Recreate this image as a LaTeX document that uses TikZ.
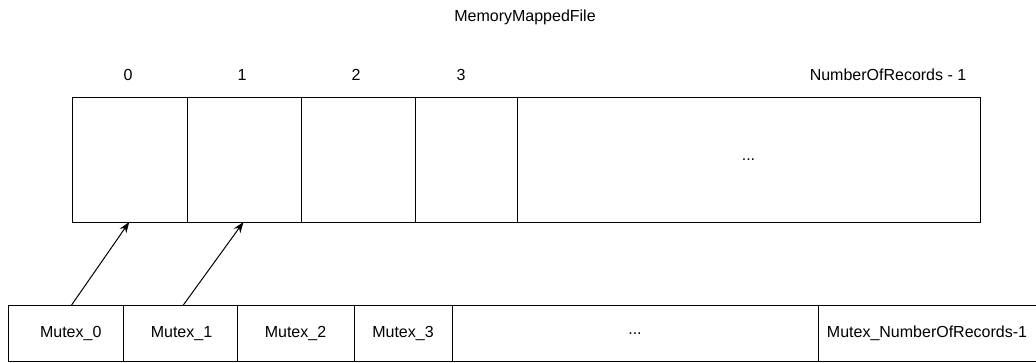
\documentclass[tikz,border=0pt]{standalone}
\usepackage{fontspec}
\setmainfont{Liberation Sans}
\usetikzlibrary{calc,arrows.meta}
\begin{document}
\begin{tikzpicture}[x=1pt,y=-1pt,
  cell/.style={draw=black,line width=1pt,rectangle,inner sep=0pt,outer sep=0pt,anchor=center,font=\fontsize{16}{19}\selectfont},
  lbl/.style={inner sep=0pt,anchor=center,font=\fontsize{16}{19}\selectfont},
  conn/.style={line width=1pt,-{Stealth[length=11pt,width=8pt]}}]
\useasboundingbox (0,0) rectangle (1036,362);
% top row
\node[cell,minimum width=114.5pt,minimum height=125pt] (c0) at (129.75,159.5) {};
\node[cell,minimum width=114pt,minimum height=125pt] (c1) at (244,159.5) {};
\node[cell,minimum width=114pt,minimum height=125pt] (c2) at (358,159.5) {};
\node[cell,minimum width=102pt,minimum height=125pt] (c3) at (466,159.5) {};
\node[cell,minimum width=463pt,minimum height=125pt] (c4) at (748.5,159.5) {...};
% bottom row
\node[cell,minimum width=114.5pt,minimum height=55.5pt] (m0) at (65.75,333.25) {\hspace{10pt}Mutex\_0};
\node[cell,minimum width=114pt,minimum height=55.5pt] (m1) at (180,333.25) {\hspace{3pt}Mutex\_1};
\node[cell,minimum width=117pt,minimum height=55.5pt] (m2) at (295.5,333.25) {Mutex\_2};
\node[cell,minimum width=98pt,minimum height=55.5pt] (m3) at (403,333.25) {Mutex\_3};
\node[cell,minimum width=366pt,minimum height=55.5pt] (m4) at (635,333.25) {...};
\node[cell,minimum width=218pt,minimum height=55.5pt] (m5) at (927,333.25) {Mutex\_NumberOfRecords-1};
% labels
\node[lbl] (title) at (525,17) {MemoryMappedFile};
\node[lbl] (l0) at (128,75) {0};
\node[lbl] (l1) at (242,75) {1};
\node[lbl] (l2) at (356,75) {2};
\node[lbl] (l3) at (461,75) {3};
\node[lbl] (ln) at (888,75) {NumberOfRecords - 1};
% arrows
\draw[conn] ($(m0.north)+(5.5,0)$) -- ($(c0.south)+(-0.5,0)$);
\draw[conn] ($(m1.north)+(3,0)$) -- ($(c1.south)+(-0.5,0)$);
\end{tikzpicture}
\end{document}
